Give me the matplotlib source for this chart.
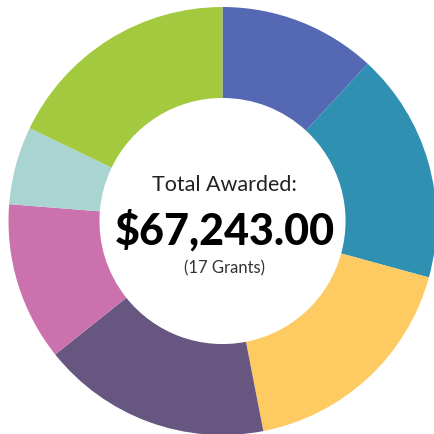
import matplotlib
matplotlib.use("Agg")
import matplotlib.pyplot as plt

# grant amounts per category
labels = ["A", "B", "C", "D", "E", "F", "G"]
amounts = [7976, 11693, 11898, 11656, 8051, 3960, 12009]
colors = ["#5568B3", "#2F90B1", "#FECB63", "#67567F", "#CB71AE", "#A9D4D1", "#A3CA3E"]

total_text = "$67,243.00"
count_text = "(17 Grants)"

fig = plt.figure(figsize=(4.35, 4.35), dpi=100)
ax = fig.add_axes([0, 0, 1, 1])
ax.pie(amounts, colors=colors, startangle=90, counterclock=False,
       radius=1.0, wedgeprops=dict(width=0.425, linewidth=0))
ax.set_aspect("equal")
ax.set_xlim(-222.5 / 214, -222.5 / 214 + 435 / 214)
ax.set_ylim(-213 / 214, -213 / 214 + 435 / 214)
ax.axis("off")

ax.text(0.01, 0.175, "Total Awarded:", ha="center", va="center",
        fontsize=15.5, family="Lato", color="#222222")
ax.text(0.01, -0.04, total_text, ha="center", va="center",
        fontsize=31, family="Lato", fontweight="black", color="black")
ax.text(0.01, -0.215, count_text, ha="center", va="center",
        fontsize=12, family="Lato", color="#333333")

fig.savefig("out.png", dpi=100)
